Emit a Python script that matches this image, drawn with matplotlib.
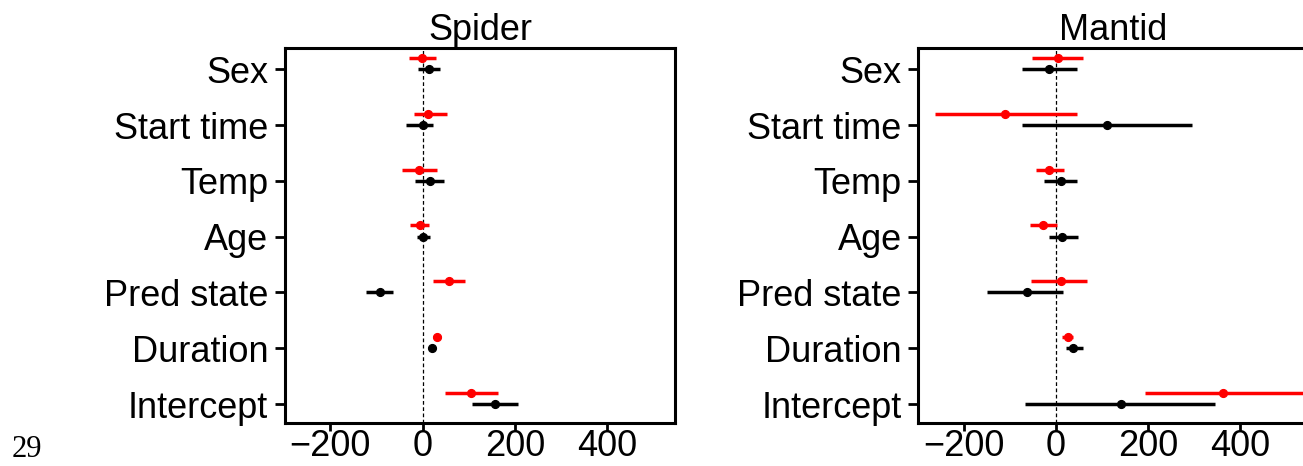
import numpy as np
import matplotlib
matplotlib.use("Agg")
import matplotlib.pyplot as plt

plt.rcParams['font.family'] = ['Liberation Sans', 'DejaVu Sans']

# ----------------------------
# Coefficient estimates (bottom to top)
# ----------------------------
terms = ["Intercept", "Duration", "Pred state", "Age", "Temp", "Start time", "Sex"]

# Spider: red series
spider_red_est = [106, 31, 58, -6, -8, 12, -2]
spider_red_lo = [49, 22, 22, -27, -45, -19, -30]
spider_red_hi = [163, 41, 93, 13, 31, 53, 29]
# Spider: black series
spider_blk_est = [158, 20, -93, 1, 16, 0, 13]
spider_blk_lo = [108, 15, -122, -12, -17, -35, -10]
spider_blk_hi = [207, 26, -64, 17, 47, 22, 37]

# Mantid: red series
mantid_red_est = [362, 26, 12, -27, -14, -111, 4]
mantid_red_lo = [192, 13, -53, -56, -43, -261, -51]
mantid_red_hi = [540, 38, 68, 2, 17, 45, 58]
# Mantid: black series
mantid_blk_est = [141, 38, -63, 14, 10, 111, -16]
mantid_blk_lo = [-67, 22, -150, -14, -25, -74, -74]
mantid_blk_hi = [345, 59, 15, 47, 45, 295, 45]

XTICKS = [-200, 0, 200, 400]
XLIM = (-298, 547)
OFFSET = 0.2
FS = 26


def forest(ax, title, red, black):
    y = np.arange(1, len(terms) + 1)
    ax.axvline(0, color='black', lw=0.9, ls=(0, (3, 2)), zorder=1)
    for (est, lo, hi), color, yy in [(black, 'black', y), (red, '#ff0000', y + OFFSET)]:
        est = np.asarray(est, float)
        err = [est - np.asarray(lo, float), np.asarray(hi, float) - est]
        ax.errorbar(est, yy, xerr=err, fmt='o', color=color, ms=5.6,
                    elinewidth=2.5, capsize=0, zorder=3)
    ax.set_xlim(*XLIM)
    ax.set_ylim(0.66, 7.38)
    ax.set_xticks(XTICKS)
    ax.set_xticklabels(["\u2212200", "0", "200", "400"])
    ax.set_yticks(y)
    ax.set_yticklabels(terms)
    ax.tick_params(axis='both', labelsize=FS, width=2, length=7, direction='out')
    ax.tick_params(axis='y', pad=5)
    ax.tick_params(axis='x', length=6, pad=-1.5)
    for s in ax.spines.values():
        s.set_linewidth(2.2)
    ax.set_title(title, fontsize=FS, pad=5)


fig = plt.figure(figsize=(13.03, 4.66), dpi=100)
ax1 = fig.add_axes([0.2187, 0.0923, 0.2993, 0.8047])
ax2 = fig.add_axes([0.7048, 0.0923, 0.2993, 0.8047])

forest(ax1, "Spider", (spider_red_est, spider_red_lo, spider_red_hi),
       (spider_blk_est, spider_blk_lo, spider_blk_hi))
forest(ax2, "Mantid", (mantid_red_est, mantid_red_lo, mantid_red_hi),
       (mantid_blk_est, mantid_blk_lo, mantid_blk_hi))

# page number in the lower-left corner
fig.text(0.009, 0.004, "29", family='Liberation Serif', fontsize=22, va='bottom')

fig.savefig("out.png", dpi=100)
